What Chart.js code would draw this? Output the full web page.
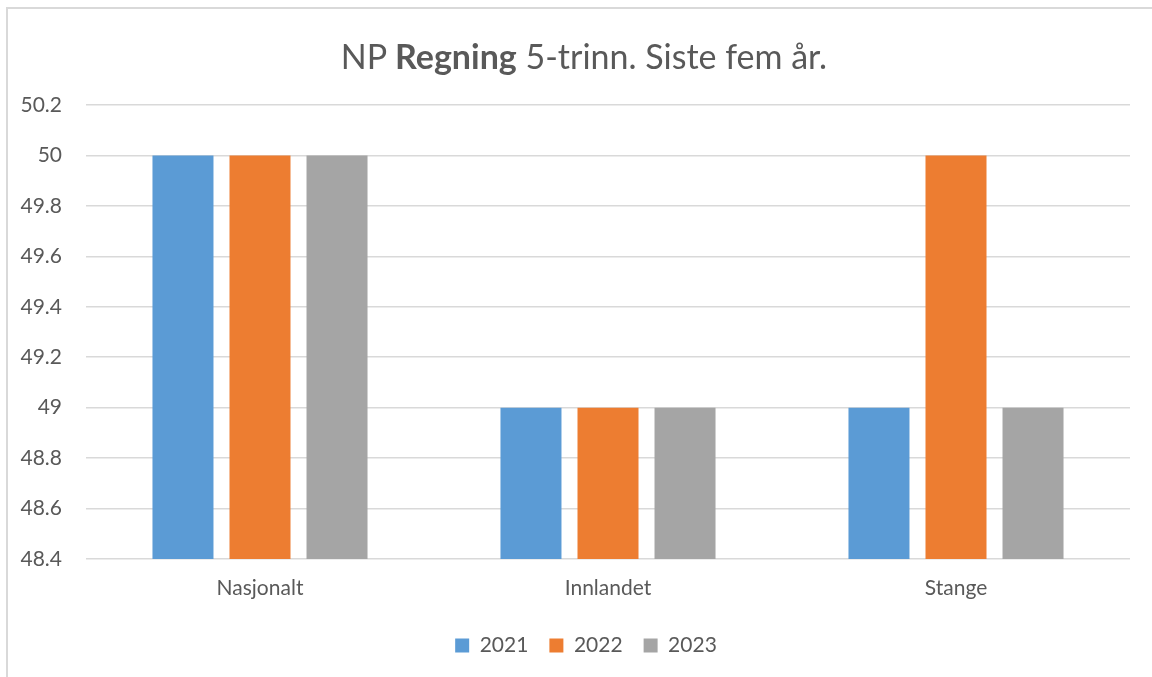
<!DOCTYPE html>
<html>
<head>
<meta charset="utf-8">
<title>NP Regning 5-trinn</title>
<script src="https://cdn.jsdelivr.net/npm/chart.js@4/dist/chart.umd.min.js"></script>
<style>
    body { margin: 0; background: #fff; }
    #ramme {
        position: absolute; left: 6px; top: 7px; width: 1200px; height: 700px;
        border-top: 2px solid #d9d9d9; border-left: 2px solid #d9d9d9;
    }
    #tittel {
        position: absolute; left: 0; top: 36px; width: 1168px; text-align: center;
        font-family: Lato, "Open Sans", sans-serif; font-size: 34px; line-height: 40px; color: #595959;
    }
    #graf { position: absolute; left: 0; top: 0; }
</style>
</head>
<body>
<div id="ramme"></div>
<canvas id="graf" width="1152" height="677"></canvas>
<div id="tittel">NP <b>Regning</b> 5-trinn. Siste fem år.</div>
<script>
"use strict";

////////////////////////////////////////////////////// datos
const kategorier = ["Nasjonalt", "Innlandet", "Stange"];
const aar = ["2021", "2022", "2023"];
const verdier2021 = [50, 49, 49];
const verdier2022 = [50, 49, 50];
const verdier2023 = [50, 49, 49];
const yTicks = [48.4, 48.6, 48.8, 49, 49.2, 49.4, 49.6, 49.8, 50, 50.2];
const farger = ["#5B9BD5", "#ED7D31", "#A5A5A5"];
const tekstFarge = "#595959";

////////////////////////////////////////////////////// configuración del gráfico
const serier = [verdier2021, verdier2022, verdier2023];
const datasets = serier.map((v, i) => ({
    label: aar[i],
    data: v,
    backgroundColor: farger[i],
    borderWidth: 0,
    categoryPercentage: 0.664,
    barPercentage: 0.792,
}));

Chart.defaults.font.family = "Lato, 'Open Sans', sans-serif";
Chart.defaults.color = tekstFarge;

// legenden sentreres på hele rammen, ikke bare plottet
const flyttLegende = {
    id: "flyttLegende",
    afterLayout(chart) {
        chart.legend.left += 21;
        chart.legend.right += 21;
    },
};

new Chart(document.getElementById("graf").getContext("2d"), {
    type: "bar",
    data: { labels: kategorier, datasets: datasets },
    plugins: [flyttLegende],
    options: {
        responsive: false,
        animation: false,
        layout: { padding: { top: 105, right: 22, bottom: 11, left: 0 } },
        plugins: {
            title: { display: false },
            tooltip: { enabled: false },
            legend: {
                position: "bottom",
                labels: {
                    boxWidth: 14,
                    boxHeight: 14,
                    padding: 21,
                    font: { size: 21 },
                    color: tekstFarge,
                },
            },
        },
        scales: {
            x: {
                grid: { display: false },
                border: { display: false },
                ticks: { padding: 9, font: { size: 21 }, color: tekstFarge },
                afterFit: (s) => { s.height = 55; },
            },
            y: {
                min: yTicks[0],
                max: yTicks[yTicks.length - 1],
                afterBuildTicks: (s) => { s.ticks = yTicks.map((v) => ({ value: v })); },
                grid: { color: "#d9d9d9", lineWidth: 1.5, drawTicks: false },
                border: { display: false },
                ticks: {
                    padding: 24,
                    font: { size: 21 },
                    color: tekstFarge,
                    callback: (v) => String(Number(v.toFixed(1))),
                },
                afterFit: (s) => { s.width = 86; },
            },
        },
    },
});
</script>
</body>
</html>
